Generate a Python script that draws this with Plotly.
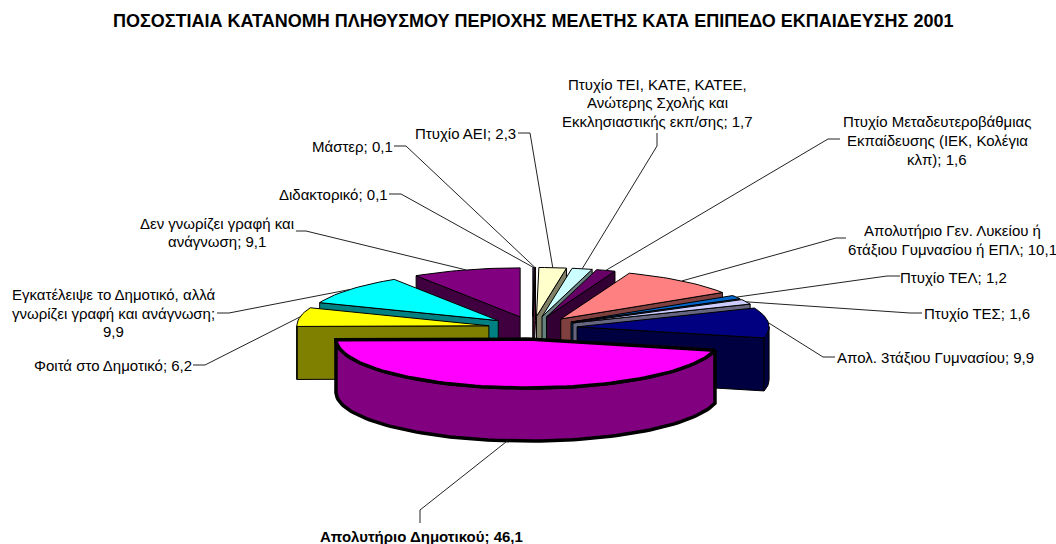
import math
import plotly.graph_objects as go

TITLE = "ΠΟΣΟΣΤΙΑΙΑ ΚΑΤΑΝΟΜΗ ΠΛΗΘΥΣΜΟΥ ΠΕΡΙΟΧΗΣ ΜΕΛΕΤΗΣ ΚΑΤΑ ΕΠΙΠΕΔΟ ΕΚΠΑΙΔΕΥΣΗΣ 2001"

# category names, wrapped as in the reference (clockwise from 12 o'clock)
categories = [
    ["Διδακτορικό"],
    ["Μάστερ"],
    ["Πτυχίο ΑΕΙ"],
    ["Πτυχίο ΤΕΙ, ΚΑΤΕ, ΚΑΤΕΕ,", "Ανώτερης Σχολής και", "Εκκλησιαστικής εκπ/σης"],
    ["Πτυχίο Μεταδευτεροβάθμιας", "Εκπαίδευσης (ΙΕΚ, Κολέγια", "κλπ)"],
    ["Απολυτήριο Γεν. Λυκείου ή", "6τάξιου Γυμνασίου ή ΕΠΛ"],
    ["Πτυχίο ΤΕΛ"],
    ["Πτυχίο ΤΕΣ"],
    ["Απολ. 3τάξιου Γυμνασίου"],
    ["Απολυτήριο Δημοτικού"],
    ["Φοιτά στο Δημοτικό"],
    ["Εγκατέλειψε το Δημοτικό, αλλά", "γνωρίζει γραφή και ανάγνωση"],
    ["Δεν γνωρίζει γραφή και", "ανάγνωση"],
]
values = [0.1, 0.1, 2.3, 1.7, 1.6, 10.1, 1.2, 1.6, 9.9, 46.1, 6.2, 9.9, 9.1]
top_colors = ["#9999FF", "#993366", "#FFFFCC", "#CCFFFF", "#660066", "#FF8080", "#0066CC",
              "#CCCCFF", "#000080", "#FF00FF", "#FFFF00", "#00FFFF", "#800080"]
side_colors = ["#4D4D80", "#4D1A33", "#808066", "#668080", "#330033", "#804040", "#003366",
               "#666680", "#000040", "#800080", "#808000", "#008080", "#400040"]
HIGHLIGHT = 9  # the bold, heavily outlined slice

# pie geometry
CX, CY = 532.7, 327.8
RX, RY = 192.0, 49.0
DEPTH = 53.0
PULL = 0.232

# label layout: centre x, y of each line
label_x = [333, 352, 465, 657, 937, 952, 953, 977, 935, 421, 113, 113, 217]
label_y = [[194], [146], [133], [84, 102, 121], [121, 140, 159], [230, 249], [277], [313], [357],
           [536], [365], [294, 313, 331], [223, 241]]
value_on_own_line = {11}
# leader elbows, from the label towards the slice
leader_elbows = [
    [(389, 194), (401, 194)],
    [(394, 146), (406, 146)],
    [(518, 133), (530, 133)],
    [(657, 133), (657, 146)],
    [(840, 139), (828, 139)],
    [(846, 238), (836, 238)],
    [(900, 276), (887, 276)],
    [(922, 313), (910, 313)],
    [(835, 357), (823, 357)],
    [(420, 523), (420, 510)],
    [(193, 365), (205, 365)],
    [(217, 313), (229, 313)],
    [(296, 231), (306, 231)],
]

# angles from the values
total = sum(values)
starts, ends = [], []
acc = 0.0
for v in values:
    starts.append(acc / total * 360)
    acc += v
    ends.append(acc / total * 360)


def apex(i):
    m = math.radians((starts[i] + ends[i]) / 2)
    return CX + PULL * RX * math.sin(m), CY - PULL * RY * math.cos(m)


def rim(i, deg):
    ax, ay = apex(i)
    a = math.radians(deg)
    return ax + RX * math.sin(a), ay - RY * math.cos(a)


def arc(i, a0, a1):
    n = max(2, int(abs(a1 - a0) / 2) + 2)
    return [rim(i, a0 + (a1 - a0) * k / (n - 1)) for k in range(n)]


fig = go.Figure()


def poly(pts, fill, lw):
    xs = [p[0] for p in pts] + [pts[0][0]]
    ys = [p[1] for p in pts] + [pts[0][1]]
    fig.add_trace(go.Scatter(x=xs, y=ys, mode="lines", fill="toself", fillcolor=fill,
                             line=dict(color="black", width=lw), hoverinfo="skip", showlegend=False))


def dist_from_top(i):
    m = (starts[i] + ends[i]) / 2
    return min(m, 360 - m)


order = sorted(range(len(values)), key=dist_from_top)
for i in order:
    s, e = starts[i], ends[i]
    lw = 3.5 if i == HIGHLIGHT else 1
    ax, ay = apex(i)
    # radial side faces that turn towards the viewer
    if e < 180:
        r = rim(i, e)
        poly([(ax, ay), r, (r[0], r[1] + DEPTH), (ax, ay + DEPTH)], side_colors[i], lw)
    if s > 180:
        r = rim(i, s)
        poly([(ax, ay), r, (r[0], r[1] + DEPTH), (ax, ay + DEPTH)], side_colors[i], lw)
    # outer curved wall
    a0, a1 = max(s, 90), min(e, 270)
    if a1 > a0:
        top_arc = arc(i, a0, a1)
        poly(top_arc + [(x, y + DEPTH) for x, y in reversed(top_arc)], side_colors[i], lw)
    # top face
    poly([(ax, ay)] + arc(i, s, e), top_colors[i], lw)

# leaders
for i, elbows in enumerate(leader_elbows):
    m = (starts[i] + ends[i]) / 2
    ex, ey = rim(i, m)
    if 90 < m < 270:
        ey += DEPTH
    pts = elbows + [(ex, ey)]
    fig.add_trace(go.Scatter(x=[p[0] for p in pts], y=[p[1] for p in pts], mode="lines",
                             line=dict(color="#222222", width=1), hoverinfo="skip", showlegend=False))

FONT = "Liberation Sans, Arial, sans-serif"
annotations = [dict(x=532.5, y=21, xref="x", yref="y", text=f"<b>{TITLE}</b>", showarrow=False,
                    font=dict(family=FONT, size=18, color="black"), xanchor="center", yanchor="middle")]
for i, lines in enumerate(categories):
    val = f"{values[i]}".replace(".", ",")
    parts = list(lines)
    if i in value_on_own_line:
        parts[-1] += ";"
        parts.append(val)
    else:
        parts[-1] += "; " + val
    for t, y in zip(parts, label_y[i]):
        if i == HIGHLIGHT:
            t = f"<b>{t}</b>"
        annotations.append(dict(x=label_x[i], y=y, xref="x", yref="y", text=t, showarrow=False,
                                font=dict(family=FONT, size=15, color="black"),
                                xanchor="center", yanchor="middle"))

fig.update_layout(
    width=1056, height=544, margin=dict(l=0, r=0, t=0, b=0),
    paper_bgcolor="white", plot_bgcolor="white", showlegend=False,
    xaxis=dict(range=[0, 1056], visible=False, fixedrange=True),
    yaxis=dict(range=[544, 0], visible=False, fixedrange=True),
    annotations=annotations,
)
fig.write_html("out.html", post_script="document.body.style.margin='0';",
               config={"displayModeBar": False})
